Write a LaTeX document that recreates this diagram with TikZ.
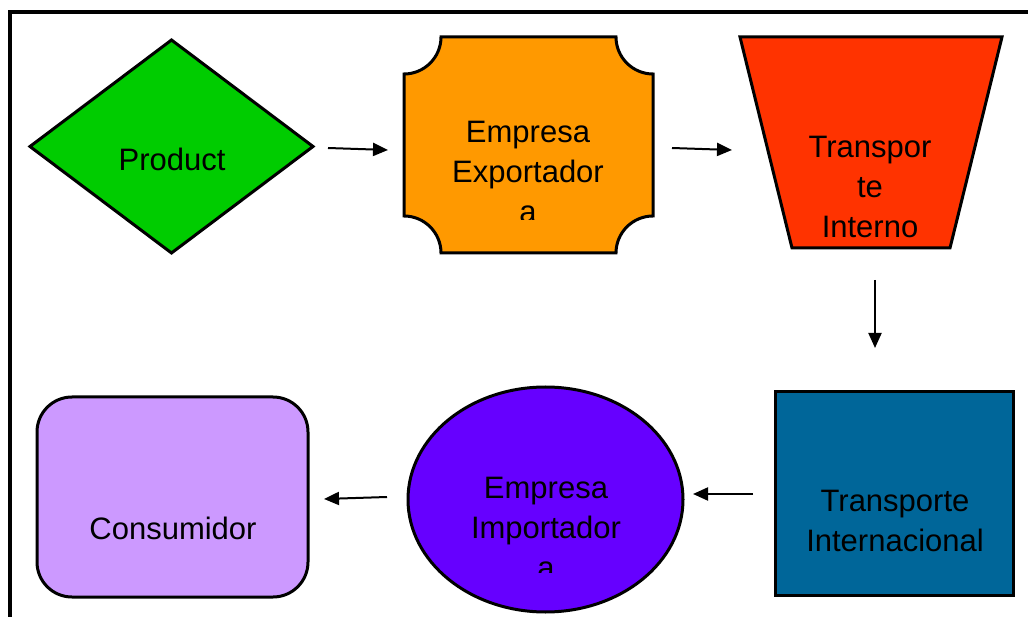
\documentclass[tikz,border=0pt]{standalone}
\usepackage{fontspec}
\setmainfont{Liberation Sans}
\usetikzlibrary{shapes.geometric,arrows.meta,calc}
\definecolor{cgreen}{HTML}{00CC00}
\definecolor{corange}{HTML}{FF9900}
\definecolor{cred}{HTML}{FF3300}
\definecolor{cblue}{HTML}{006699}
\definecolor{cpurple}{HTML}{6600FF}
\definecolor{clav}{HTML}{CC99FF}
\begin{document}
\begin{tikzpicture}[x=1pt,y=-1pt,
  shp/.style={draw=black,line width=3pt,inner sep=0pt,outer sep=0pt},
  ghost/.style={inner sep=0pt,outer sep=0pt},
  lbl/.style={font=\fontsize{31}{40}\selectfont,align=center,inner sep=0pt,anchor=north},
  conn/.style={line width=2pt,-{Triangle[length=15pt,width=13pt]}}]
\useasboundingbox (0,0) rectangle (1028,617);
\fill[white] (0,0) rectangle (1028,617);
% frame
\draw[line width=4.5pt] (10,620) -- (10,12) -- (1031,12);

% shapes
\node[shp,diamond,fill=cgreen,minimum width=283pt,minimum height=213pt] (prod) at (171.5,146.5) {};
\node[ghost,minimum width=249pt,minimum height=216pt] (exp) at (528.5,145) {};
\draw[line width=3pt,fill=corange]
  (441,37) -- (616,37) .. controls (616,57.4) and (632.6,74) .. (653,74)
  -- (653,216) .. controls (632.6,216) and (616,232.6) .. (616,253)
  -- (441,253) .. controls (441,232.6) and (424.4,216) .. (404,216)
  -- (404,74) .. controls (424.4,74) and (441,57.4) .. (441,37) -- cycle;
\node[ghost,minimum width=262pt,minimum height=211pt] (tin) at (871,142.5) {};
\draw[line width=3pt,fill=cred] (740,37) -- (1002,37) -- (950,248) -- (792,248) -- cycle;
\node[shp,fill=cblue,minimum width=238pt,minimum height=203pt] (ti) at (894,493.5) {};
\node[shp,ellipse,fill=cpurple,minimum width=275pt,minimum height=225pt] (imp) at (545.5,499.5) {};
\node[shp,rectangle,rounded corners=35pt,fill=clav,minimum width=271pt,minimum height=200pt] (cons) at (172.5,497) {};

% labels
\node[lbl] (tprod) at (172,148) {Product};
\begin{scope}
  \clip (404,37) rectangle (653,220);
  \node[lbl] (texp) at (528,121) {Empresa\\Exportador\\a};
\end{scope}
\node[lbl] (ttin) at (870,136) {Transpor\\te\\Interno};
\node[lbl] (tti) at (895,490) {Transporte\\Internacional};
\begin{scope}
  \clip (400,380) rectangle (690,572);
  \node[lbl] (timp) at (546,477) {Empresa\\Importador\\a};
\end{scope}
\node[lbl] (tcons) at (173,517) {Consumidor};

% connectors
\draw[conn] ($(prod.east)+(15,1.5)$) -- ($(exp.west)+(-16,5)$);
\draw[conn] ($(exp.east)+(19,3)$) -- ($(tin.west)+(-8,7.5)$);
\draw[conn] ($(tin.south)+(4,32)$) -- ($(ti.north)+(-19,-44)$);
\draw[conn] ($(ti.west)+(-22,0.5)$) -- ($(imp.east)+(10,-5.5)$);
\draw[conn] ($(imp.west)+(-21,-2.5)$) -- ($(cons.east)+(16,2)$);
\end{tikzpicture}
\end{document}
